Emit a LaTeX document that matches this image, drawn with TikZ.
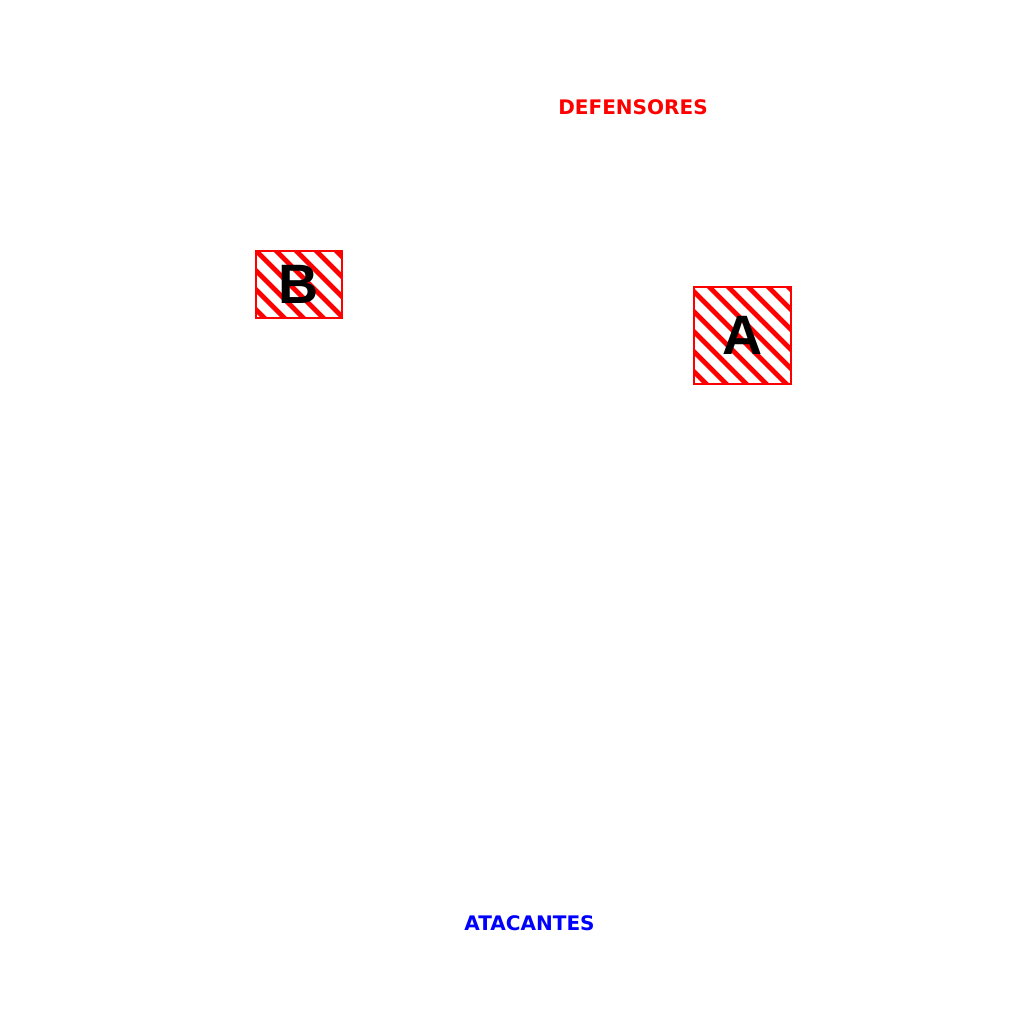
\documentclass[tikz,border=0pt]{standalone}
\usepackage{fontspec}
\setmainfont{DejaVu Sans}
\newfontfamily\letrafont{Liberation Sans}[UprightFont=* Bold]
\usetikzlibrary{patterns.meta}
\usetikzlibrary{positioning}

\tikzset{
  zona/.style={rectangle,draw=red,line width=0.025cm,
    pattern={Lines[angle=-45,distance=0.14cm,line width=0.05cm]},pattern color=red,
    inner sep=0pt,font=\letrafont\fontsize{15.8}{16}\selectfont,text=black},
  equipo/.style={font=\fontsize{5.7}{6}\selectfont\bfseries,anchor=center}
}

\begin{document}
\begin{tikzpicture}
\useasboundingbox (0,0) rectangle (10.24,10.24);

\node[equipo,text=red] (def) at (6.33, 9.17) {DEFENSORES};
\node[equipo,text=blue] (ata) at (5.295, 1.005) {ATACANTES};

\node[zona,minimum width=0.86cm,minimum height=0.67cm] (B) at (2.99, 7.395) {B};
\node[zona,minimum width=0.97cm,minimum height=0.97cm] (A) at (7.425, 6.885) {A};

\end{tikzpicture}
\end{document}
